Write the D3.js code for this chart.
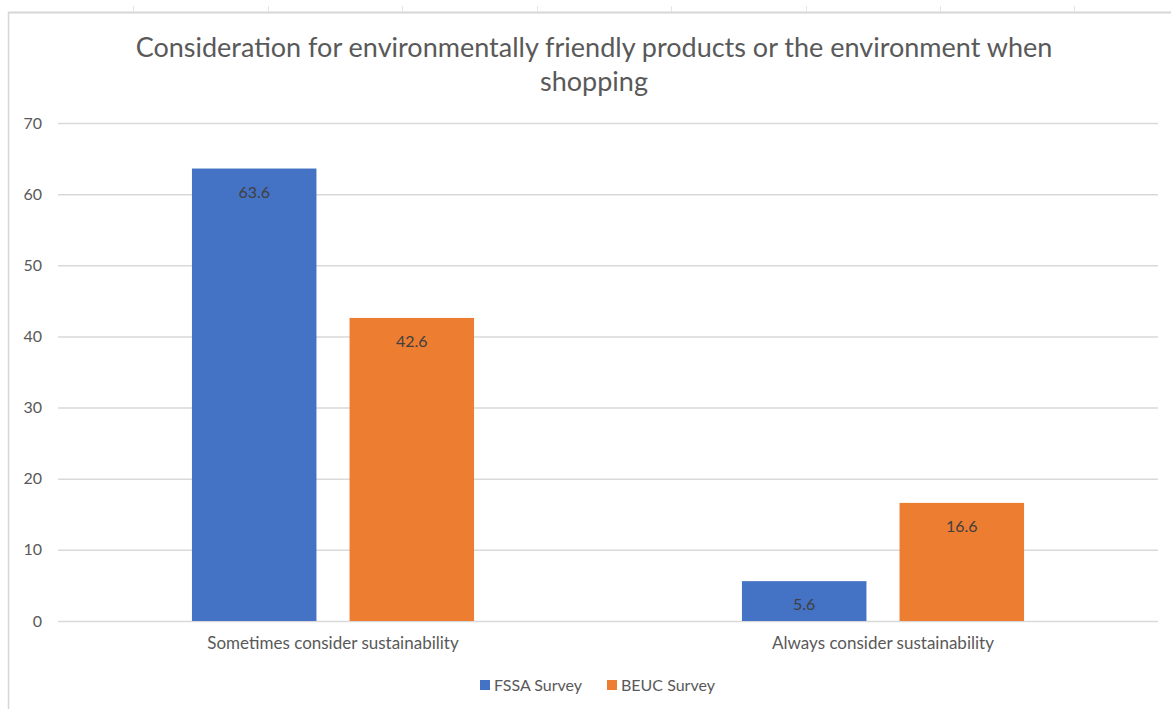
<!DOCTYPE html>
<html>
<head>
<meta charset="utf-8">
<script src="https://cdn.jsdelivr.net/npm/d3@7"></script>
<style>
  body { margin: 0; background: #fff; }
  svg { display: block; font-family: Lato, "Open Sans", sans-serif; }
</style>
</head>
<body>
<svg id="chart" width="1171" height="709"></svg>
<script>
var categories = ["Sometimes consider sustainability", "Always consider sustainability"];
var seriesNames = ["FSSA Survey", "BEUC Survey"];
var fssaValues = [63.6, 5.6];
var beucValues = [42.6, 16.6];
var yTicks = [0, 10, 20, 30, 40, 50, 60, 70];
var titleLines = ["Consideration for environmentally friendly products or the environment when", "shopping"];

var colors = ["#4472C4", "#ED7D31"];
var svg = d3.select("#chart");

// frame of the spreadsheet screenshot
var frame = svg.append("g").attr("stroke", "#d6d6d6");
frame.append("line").attr("x1", 8).attr("x2", 1171).attr("y1", 12.5).attr("y2", 12.5).attr("stroke-width", 2);
frame.append("line").attr("x1", 8.5).attr("x2", 8.5).attr("y1", 12).attr("y2", 709).attr("stroke-width", 1.5);
[133, 268, 402, 537, 671, 806, 940, 1074].forEach(function (x) {
    frame.append("line").attr("x1", x + 0.5).attr("x2", x + 0.5).attr("y1", 6).attr("y2", 12).attr("stroke", "#e4e4e4");
});

var plotLeft = 58, plotRight = 1158, plotTop = 123, plotBottom = 621;

var y = d3.scaleLinear().domain([0, 70]).range([plotBottom, plotTop]);
var x0 = d3.scaleBand().domain(categories).range([plotLeft, plotRight]);
var x1 = d3.scaleBand().domain(seriesNames).range([0, x0.bandwidth()])
    .paddingInner(0.21).paddingOuter(0.85);

// gridlines
svg.append("g").selectAll("line").data(yTicks).enter().append("line")
    .attr("x1", plotLeft).attr("x2", plotRight)
    .attr("y1", function (d) { return y(d) + 0.5; })
    .attr("y2", function (d) { return y(d) + 0.5; })
    .attr("stroke", "#d9d9d9").attr("stroke-width", 1.5);

// y axis labels
var yAxis = d3.axisLeft(y).tickValues(yTicks).tickSize(0).tickPadding(0);
var yg = svg.append("g").attr("transform", "translate(42,0)").call(yAxis);
yg.select(".domain").remove();
yg.selectAll("text").attr("fill", "#595959").style("font-size", "16px").style("font-family", "Lato, sans-serif");

// x axis labels
var xAxis = d3.axisBottom(x0).tickSize(0).tickPadding(16);
var xg = svg.append("g").attr("transform", "translate(0," + plotBottom + ")").call(xAxis);
xg.select(".domain").remove();
xg.selectAll("text").attr("fill", "#595959").style("font-size", "17px").style("font-family", "Lato, sans-serif");

var rows = categories.map(function (c, i) {
    return { cat: c, vals: [{ s: seriesNames[0], v: fssaValues[i], c: colors[0] }, { s: seriesNames[1], v: beucValues[i], c: colors[1] }] };
});

var groups = svg.append("g").selectAll("g").data(rows).enter().append("g")
    .attr("transform", function (d) { return "translate(" + x0(d.cat) + ",0)"; });

groups.selectAll("rect").data(function (d) { return d.vals; }).enter().append("rect")
    .attr("x", function (d) { return x1(d.s); })
    .attr("y", function (d) { return y(d.v); })
    .attr("width", x1.bandwidth())
    .attr("height", function (d) { return plotBottom - y(d.v); })
    .attr("fill", function (d) { return d.c; });

groups.selectAll("text").data(function (d) { return d.vals; }).enter().append("text")
    .attr("x", function (d) { return x1(d.s) + x1.bandwidth() / 2; })
    .attr("y", function (d) { return y(d.v) + 29; })
    .attr("text-anchor", "middle")
    .attr("fill", "#404040")
    .style("font-size", "16px")
    .text(function (d) { return d.v; });

// title
svg.append("g").selectAll("text").data(titleLines).enter().append("text")
    .attr("x", 594)
    .attr("y", function (d, i) { return 57 + i * 34; })
    .attr("text-anchor", "middle")
    .attr("fill", "#595959")
    .style("font-size", "27px")
    .text(function (d) { return d; });

// legend
var legend = svg.append("g").selectAll("g").data(seriesNames).enter().append("g")
    .attr("transform", function (d, i) { return "translate(" + (480 + i * 127) + ",680)"; });
legend.append("rect").attr("width", 10).attr("height", 10)
    .attr("fill", function (d, i) { return colors[i]; });
legend.append("text").attr("x", 14).attr("y", 11).attr("fill", "#595959")
    .style("font-size", "16px").text(function (d) { return d; });
</script>
</body>
</html>
